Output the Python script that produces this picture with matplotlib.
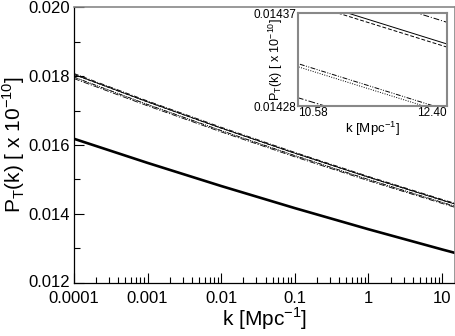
import matplotlib.pyplot as plt
from matplotlib.ticker import FixedLocator, LogLocator, MultipleLocator, NullFormatter

plt.rcParams['font.family'] = ['Liberation Sans', 'DejaVu Sans']

k = [0.0001, 0.001, 0.01, 0.1, 1, 10, 10.58, 12.40, 15]

# P_T(k) in units of 1e-10
p_thick = [0.016181, 0.015481, 0.014810, 0.014169, 0.013556, 0.012970, 0.012956, 0.012917, 0.012869]
p_dashdot_top = [0.018075, 0.017277, 0.016515, 0.015786, 0.015088, 0.014422, 0.014406, 0.014361, 0.014308]
p_solid = [0.018049, 0.017252, 0.016491, 0.015763, 0.015066, 0.014401, 0.014385, 0.014340, 0.014287]
p_dashed = [0.018045, 0.017248, 0.016487, 0.015760, 0.015063, 0.014398, 0.014382, 0.014337, 0.014284]
p_dashdotdot = [0.017969, 0.017175, 0.016418, 0.015693, 0.014999, 0.014337, 0.014321, 0.014276, 0.014223]
p_dotted = [0.017965, 0.017172, 0.016414, 0.015690, 0.014995, 0.014334, 0.014318, 0.014273, 0.014220]
p_dashdot_low = [0.017927, 0.017136, 0.016380, 0.015657, 0.014964, 0.014304, 0.014288, 0.014244, 0.014191]

x_ticks = [0.0001, 0.001, 0.01, 0.1, 1, 10]
x_ticklabels = ['0.0001', '0.001', '0.01', '0.1', '1', '10']
y_ticks = [0.012, 0.014, 0.016, 0.018, 0.020]
y_ticklabels = ['0.012', '0.014', '0.016', '0.018', '0.020']

thin = [
    (p_dashdot_top, (0, (6, 2, 1, 2))),
    (p_solid, '-'),
    (p_dashed, (0, (4, 2))),
    (p_dashdotdot, (0, (5, 1.5, 1, 1.5, 1, 1.5))),
    (p_dotted, (0, (1, 1.5))),
    (p_dashdot_low, (0, (7, 2, 1.5, 2))),
]


def draw_lines(ax, lw):
    for vals, ls in thin:
        ax.plot(k, vals, color='black', lw=lw, linestyle=ls)
    ax.plot(k, p_thick, color='black', lw=1.9)


def main():
    fig = plt.figure(figsize=(4.56, 3.36), dpi=100)
    ax = fig.add_axes([0.162, 0.158, 0.836, 0.821])
    draw_lines(ax, 0.6)

    ax.set_xscale('log')
    ax.set_xlim(0.0001, 15)
    ax.set_ylim(0.012, 0.020)
    ax.set_xticks(x_ticks, labels=x_ticklabels)
    ax.xaxis.set_minor_locator(LogLocator(base=10, subs=range(2, 10)))
    ax.xaxis.set_minor_formatter(NullFormatter())
    ax.set_yticks(y_ticks, labels=y_ticklabels)
    ax.yaxis.set_minor_locator(MultipleLocator(0.001))
    ax.tick_params(which='both', direction='in', top=False, right=False, labelsize=12)
    ax.tick_params(which='major', length=7, width=0.8)
    ax.tick_params(axis='y', which='major', pad=3)
    ax.tick_params(axis='x', which='major', pad=5.5)
    ax.tick_params(which='minor', length=4, width=0.8)
    ax.get_yticklabels()[0].set_verticalalignment('center')
    for s in ['top', 'right']:
        ax.spines[s].set_color('#888888')
        ax.spines[s].set_linewidth(1.2)
    for s in ['left', 'bottom']:
        ax.spines[s].set_linewidth(0.9)
    ax.set_xlabel(r'k [Mpc$^{\mathregular{-1}}$]', fontsize=15, labelpad=0)
    ax.set_ylabel(r'P$_{\mathregular{T}}$(k) [ x 10$^{\mathregular{-10}}$]', fontsize=15, labelpad=1)

    # zoomed inset
    ins = fig.add_axes([0.6535, 0.6845, 0.3268, 0.2768])
    draw_lines(ins, 0.7)
    ins.set_xlim(10.58, 12.40)
    ins.set_ylim(0.01428, 0.01437)
    ins.xaxis.set_major_locator(FixedLocator([10.58, 12.40]))
    ins.set_xticklabels(['10.58', '12.40'])
    ins.yaxis.set_major_locator(FixedLocator([0.01428, 0.01437]))
    ins.set_yticklabels(['0.01428', '0.01437'])
    ins.tick_params(length=0, labelsize=8.5, pad=1)
    xl = ins.get_xticklabels()
    xl[0].set_horizontalalignment('left')
    xl[1].set_horizontalalignment('right')
    for s in ins.spines.values():
        s.set_color('#888888')
        s.set_linewidth(1.5)
    ins.set_xlabel(r'k [Mpc$^{\mathregular{-1}}$]', fontsize=9.5, labelpad=0)
    ins.set_ylabel(r'P$_{\mathregular{T}}$(k) [ x 10$^{\mathregular{-10}}$]', fontsize=9)
    ins.yaxis.set_label_coords(-0.085, 0.5)

    plt.savefig('out.png', dpi=100)


if __name__ == '__main__':
    main()
